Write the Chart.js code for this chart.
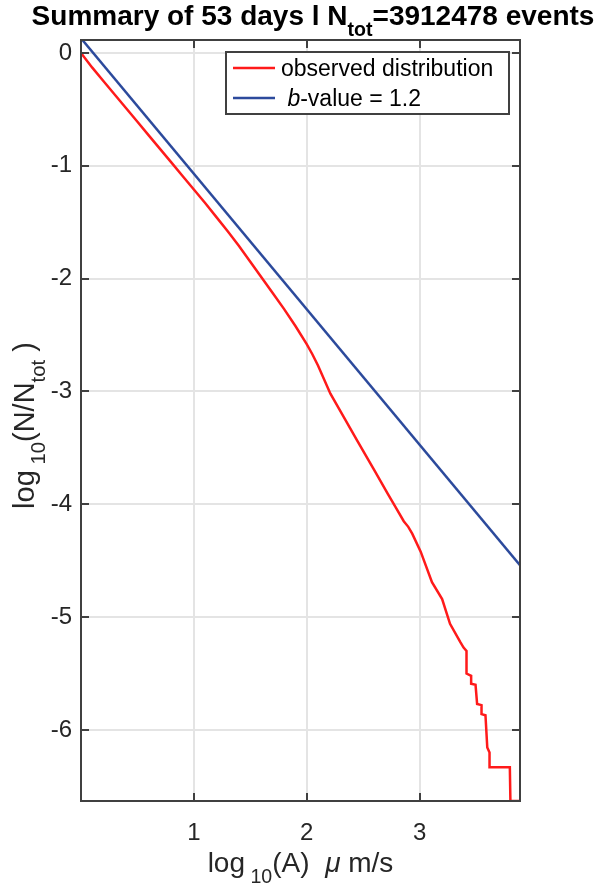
<!DOCTYPE html>
<html>
<head>
<meta charset="utf-8">
<script src="https://cdn.jsdelivr.net/npm/chart.js@4.4.1/dist/chart.umd.min.js"></script>
<style>
  html, body { margin: 0; padding: 0; background: #fff; }
  canvas { display: block; }
</style>
</head>
<body>
<canvas id="chart" width="600" height="887"></canvas>
<script>
// observed distribution (log10 amplitude vs log10 N/Ntot)
var obsX = [0, 0.1, 0.2, 0.3, 0.4, 0.5, 0.6, 0.7, 0.8, 0.9, 1.0, 1.1, 1.2, 1.3, 1.4, 1.5, 1.6, 1.7, 1.8, 1.9, 2.0, 2.05, 2.1, 2.21, 2.33, 2.45, 2.6, 2.72, 2.79, 2.86, 2.9, 2.935, 3.01, 3.11, 3.2, 3.27, 3.36, 3.39, 3.416, 3.416, 3.457, 3.457, 3.496, 3.51, 3.549, 3.549, 3.584, 3.6, 3.62, 3.62, 3.80, 3.805, 3.89];
var obsY = [0, -0.13, -0.25, -0.37, -0.49, -0.61, -0.73, -0.85, -0.97, -1.09, -1.21, -1.33, -1.455, -1.58, -1.71, -1.85, -1.99, -2.13, -2.27, -2.42, -2.58, -2.67, -2.77, -3.02, -3.23, -3.44, -3.70, -3.91, -4.03, -4.15, -4.2, -4.26, -4.42, -4.69, -4.84, -5.06, -5.22, -5.27, -5.3, -5.5, -5.52, -5.59, -5.6, -5.77, -5.78, -5.86, -5.87, -6.155, -6.2, -6.33, -6.33, -6.63, -6.63];
// b-value = 1.2 line, end points
var fitX = [0, 3.89];
var fitY = [0.13, -4.54];

var xTicks = [1, 2, 3];
var yTicks = [-6, -5, -4, -3, -2, -1, 0];

var FONT = '"Liberation Sans", Helvetica, Arial, sans-serif';

function toPts(xs, ys) {
  var out = [];
  for (var i = 0; i < xs.length; i++) out.push({x: xs[i], y: ys[i]});
  return out;
}

// draw text made of parts ({t, sub, italic}) centred on (cx, cy baseline)
function richText(ctx, parts, size, weight, cx, cy) {
  var w = 0;
  parts.forEach(function(p){
    var s = p.sub ? size * 0.7 : size;
    ctx.font = (p.italic ? 'italic ' : '') + weight + ' ' + s + 'px ' + FONT;
    p.w = ctx.measureText(p.t).width;
    w += p.w;
  });
  var x = cx - w / 2;
  parts.forEach(function(p){
    var s = p.sub ? size * 0.7 : size;
    ctx.font = (p.italic ? 'italic ' : '') + weight + ' ' + s + 'px ' + FONT;
    ctx.fillText(p.t, x, cy + (p.sub ? size * 0.38 : 0));
    x += p.w;
  });
}

var titleParts = [{t: 'Summary of 53 days l N'}, {t: 'tot', sub: true}, {t: '=3912478 events'}];
var xLabelParts = [{t: 'log'}, {t: ' 10', sub: true}, {t: '(A)  '}, {t: '\u03bc', italic: true}, {t: ' m/s'}];
var yLabelParts = [{t: 'log'}, {t: ' 10', sub: true}, {t: '(N/N'}, {t: 'tot', sub: true}, {t: ' )'}];
var legendParts = [
  [{t: 'observed distribution'}],
  [{t: ' '}, {t: 'b', italic: true}, {t: '-value = 1.2'}]
];

var decor = {
  id: 'decor',
  afterDraw: function(chart) {
    var ctx = chart.ctx, a = chart.chartArea;
    var xs = chart.scales.x, ys = chart.scales.y;
    ctx.save();
    // axes box with inward ticks
    ctx.strokeStyle = '#404040';
    ctx.lineWidth = 2;
    ctx.strokeRect(a.left, a.top, a.right - a.left, a.bottom - a.top);
    ctx.beginPath();
    xTicks.forEach(function(v){
      var px = Math.round(xs.getPixelForValue(v));
      ctx.moveTo(px, a.bottom); ctx.lineTo(px, a.bottom - 8);
      ctx.moveTo(px, a.top); ctx.lineTo(px, a.top + 8);
    });
    yTicks.forEach(function(v){
      var py = Math.round(ys.getPixelForValue(v));
      ctx.moveTo(a.left, py); ctx.lineTo(a.left + 8, py);
      ctx.moveTo(a.right, py); ctx.lineTo(a.right - 8, py);
    });
    ctx.stroke();

    // legend
    var bw = 283, bh = 62;
    var bx = a.right - 11 - bw, by = a.top + 12;
    ctx.fillStyle = '#fff';
    ctx.fillRect(bx, by, bw, bh);
    ctx.strokeStyle = '#404040';
    ctx.lineWidth = 2;
    ctx.strokeRect(bx, by, bw, bh);
    ctx.textBaseline = 'alphabetic';
    chart.data.datasets.forEach(function(ds, i){
      var ry = by + 16 + i * 30;
      ctx.strokeStyle = ds.borderColor;
      ctx.lineWidth = 2.5;
      ctx.beginPath();
      ctx.moveTo(bx + 7, ry); ctx.lineTo(bx + 49, ry);
      ctx.stroke();
      ctx.fillStyle = '#000';
      var x = bx + 55;
      legendParts[i].forEach(function(p){
        ctx.font = (p.italic ? 'italic ' : '') + '23px ' + FONT;
        ctx.fillText(p.t, x, ry + 8);
        x += ctx.measureText(p.t).width;
      });
    });

    // title and axis labels
    ctx.fillStyle = '#000';
    richText(ctx, titleParts, 28, 'bold', 313, 25);
    ctx.fillStyle = '#262626';
    richText(ctx, xLabelParts, 28, 'normal', (a.left + a.right) / 2, 872);
    ctx.translate(34, (a.top + a.bottom) / 2 + 5);
    ctx.rotate(-Math.PI / 2);
    richText(ctx, yLabelParts, 29, 'normal', 0, 0);
    ctx.restore();
  }
};

new Chart(document.getElementById('chart'), {
  type: 'scatter',
  data: {
    datasets: [
      {
        label: 'observed distribution',
        data: toPts(obsX, obsY),
        showLine: true,
        borderColor: '#ff1a1a',
        borderWidth: 2.5,
        pointRadius: 0,
        fill: false
      },
      {
        label: 'b-value = 1.2',
        data: toPts(fitX, fitY),
        showLine: true,
        borderColor: '#2c4a9c',
        borderWidth: 2.5,
        pointRadius: 0,
        fill: false
      }
    ]
  },
  options: {
    responsive: false,
    animation: false,
    devicePixelRatio: 1,
    layout: { padding: { top: 40, right: 80, left: 0, bottom: 0 } },
    plugins: {
      legend: { display: false },
      title: { display: false },
      tooltip: { enabled: false }
    },
    scales: {
      x: {
        type: 'linear',
        min: 0,
        max: 3.89,
        afterBuildTicks: function(s){ s.ticks = xTicks.map(function(v){ return {value: v}; }); },
        afterFit: function(s){ s.height = 86; },
        grid: { color: '#e4e4e4', lineWidth: 2, drawTicks: false },
        border: { display: false },
        ticks: { color: '#262626', padding: 18, font: { family: FONT, size: 24 } }
      },
      y: {
        type: 'linear',
        min: -6.63,
        max: 0.115,
        afterBuildTicks: function(s){ s.ticks = yTicks.map(function(v){ return {value: v}; }); },
        afterFit: function(s){ s.width = 81; },
        grid: { color: '#e4e4e4', lineWidth: 2, drawTicks: false },
        border: { display: false },
        ticks: { color: '#262626', padding: 9, font: { family: FONT, size: 24 } }
      }
    }
  },
  plugins: [decor]
});
</script>
</body>
</html>
